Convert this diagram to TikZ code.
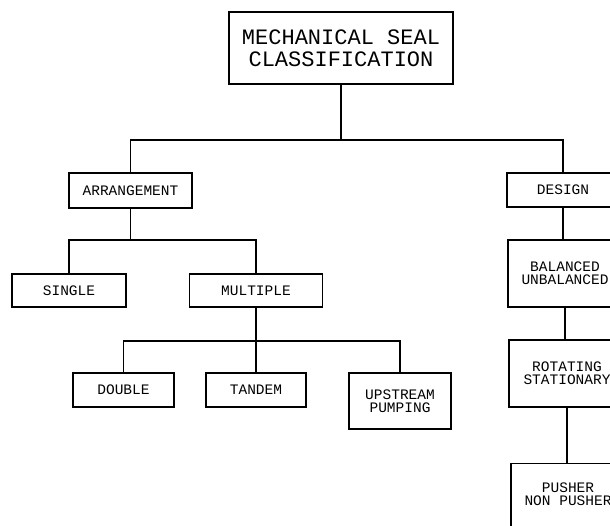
\documentclass[tikz,border=0pt]{standalone}
\usepackage{fontspec}
\newfontfamily\plotfont{Liberation Mono}
\begin{document}
\begin{tikzpicture}[x=1pt,y=-1pt,
  box/.style={draw=black,line width=1.1pt,inner sep=0pt,align=center,
    font=\plotfont\fontsize{14.5}{13}\selectfont},
  link/.style={draw=black,line width=1.1pt}]
\useasboundingbox (0,0) rectangle (610,525);
\clip (0,0) rectangle (610,525);
\fill[white] (0,0) rectangle (610,525);
\node[box,minimum width=224pt,minimum height=72pt,
  font=\plotfont\fontsize{22}{21.5}\selectfont] (top) at (341,48) {MECHANICAL SEAL\\CLASSIFICATION};
\node[box,minimum width=123pt,minimum height=35pt] (arr) at (130.5,190.5) {ARRANGEMENT};
\node[box,minimum width=112pt,minimum height=34pt] (design) at (563,190) {DESIGN};
\node[box,minimum width=114pt,minimum height=33pt] (single) at (69,290.5) {SINGLE};
\node[box,minimum width=133pt,minimum height=33pt] (multiple) at (256,290.5) {MULTIPLE};
\node[box,minimum width=114pt,minimum height=67pt] (balanced) at (565,273.5) {BALANCED\\UNBALANCED};
\node[box,minimum width=101pt,minimum height=34pt] (double) at (123.5,390) {DOUBLE};
\node[box,minimum width=100pt,minimum height=34pt] (tandem) at (256,390) {TANDEM};
\node[box,minimum width=102pt,minimum height=56pt] (upstream) at (400,401) {UPSTREAM\\PUMPING};
\node[box,minimum width=116pt,minimum height=67pt] (rotating) at (567,373.5) {ROTATING\\STATIONARY};
\node[box,minimum width=114pt,minimum height=72pt,anchor=north] (pusher) at (568,463) {\\[-22pt]PUSHER\\NON PUSHER};
\coordinate (j1) at (341,140);
\coordinate (j2) at (130.5,240);
\coordinate (j3) at (256,341);
\draw[link] (top.south) -- (j1);
\draw[link] (arr.north) |- (j1) -| (design.north);
\draw[link] (arr.south) -- (j2);
\draw[link] (single.north) |- (j2) -| (multiple.north);
\draw[link] (multiple.south) -- (tandem.north);
\draw[link] (double.north) |- (j3) -| (upstream.north);
\draw[link] (design.south) -- (design.south |- balanced.north);
\draw[link] (balanced.south) -- (balanced.south |- rotating.north);
\draw[link] (rotating.south) -- (rotating.south |- pusher.north);
\end{tikzpicture}
\end{document}
